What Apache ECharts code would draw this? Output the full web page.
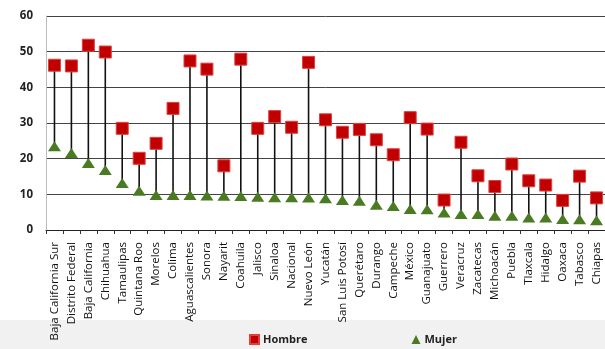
<!DOCTYPE html>
<html>
<head>
<meta charset="utf-8">
<script src="https://cdn.jsdelivr.net/npm/echarts@6/dist/echarts.min.js"></script>
<style>html,body{margin:0;padding:0;background:#fff}#c{width:605px;height:349px}</style>
</head>
<body>
<div id="c"></div>
<script>
var categories = ['Baja California Sur','Distrito Federal','Baja California','Chihuahua','Tamaulipas','Quintana Roo','Morelos','Colima','Aguascalientes','Sonora','Nayarit','Coahuila','Jalisco','Sinaloa','Nacional','Nuevo León','Yucatán','San Luis Potosí','Querétaro','Durango','Campeche','México','Guanajuato','Guerrero','Veracruz','Zacatecas','Michoacán','Puebla','Tlaxcala','Hidalgo','Oaxaca','Tabasco','Chiapas'];
var hombre = [46.2, 46, 51.8, 49.9, 28.5, 20.1, 24.3, 34.1, 47.4, 45.1, 18, 47.9, 28.5, 31.8, 28.8, 47, 30.9, 27.4, 28.2, 25.3, 21.1, 31.5, 28.3, 8.4, 24.6, 15.2, 12.2, 18.5, 13.8, 12.6, 8.3, 15.1, 9];
var mujer = [23.5, 21.6, 18.8, 16.8, 13.2, 11, 9.8, 9.8, 9.8, 9.7, 9.6, 9.5, 9.3, 9.2, 9.2, 9.1, 8.9, 8.4, 8.2, 7.1, 6.7, 5.9, 5.8, 4.9, 4.5, 4.5, 4, 4, 3.5, 3.5, 3.1, 3, 2.7];
var yTicks = [0, 10, 20, 30, 40, 50, 60];

var chart = echarts.init(document.getElementById('c'));
var rangeData = categories.map(function (c, i) { return [i, mujer[i], hombre[i]]; });
chart.setOption({
  animation: false,
  backgroundColor: '#ffffff',
  graphic: [{
    type: 'rect', z: -10, silent: true,
    shape: { x: 0, y: 320, width: 605, height: 29 },
    style: { fill: '#f1f1f1' }
  }],
  grid: { left: 46, right: 0, top: 16, bottom: 119 },
  legend: {
    left: 244, top: 329,
    itemWidth: 9, itemHeight: 9, itemGap: 104,
    textStyle: { fontFamily: 'Open Sans', fontSize: 11, fontWeight: 'bold', color: '#222', padding: [0, 0, 0, -1] },
    data: [
      { name: 'Hombre', icon: 'rect' },
      { name: 'Mujer', icon: 'triangle' }
    ]
  },
  xAxis: {
    type: 'category',
    data: categories,
    boundaryGap: true,
    axisLine: { lineStyle: { color: '#222', width: 1 } },
    axisTick: { show: true, length: 4, lineStyle: { color: '#333' } },
    axisLabel: {
      rotate: 90, interval: 0, margin: 12,
      fontFamily: 'Open Sans', fontSize: 11.5, color: '#111'
    },
    splitLine: { show: false }
  },
  yAxis: {
    type: 'value',
    min: yTicks[0], max: yTicks[yTicks.length - 1], interval: 10,
    axisLine: { show: true, lineStyle: { color: '#bbb' } },
    axisTick: { show: false },
    axisLabel: { margin: 13, fontFamily: 'Open Sans', fontSize: 11.5, fontWeight: 'bold', color: '#222' },
    splitLine: { lineStyle: { color: '#444', width: 1 } }
  },
  series: [
    {
      type: 'custom',
      name: 'range',
      data: rangeData,
      encode: { x: 0, y: [1, 2] },
      z: 1,
      renderItem: function (params, api) {
        var i = api.value(0);
        var p1 = api.coord([i, api.value(1)]);
        var p2 = api.coord([i, api.value(2)]);
        return {
          type: 'line',
          shape: { x1: p1[0], y1: p1[1], x2: p2[0], y2: p2[1] },
          style: { stroke: '#111', lineWidth: 1.6 }
        };
      }
    },
    {
      type: 'scatter', name: 'Hombre', data: hombre, z: 3,
      symbol: 'rect', symbolSize: 12,
      itemStyle: { color: '#c00000', borderColor: '#e04040', borderWidth: 1, opacity: 1 }
    },
    {
      type: 'scatter', name: 'Mujer', data: mujer, z: 3,
      symbol: 'triangle', symbolSize: [13, 10],
      itemStyle: { color: '#4a7a22', opacity: 1 }
    }
  ]
});
</script>
</body>
</html>
